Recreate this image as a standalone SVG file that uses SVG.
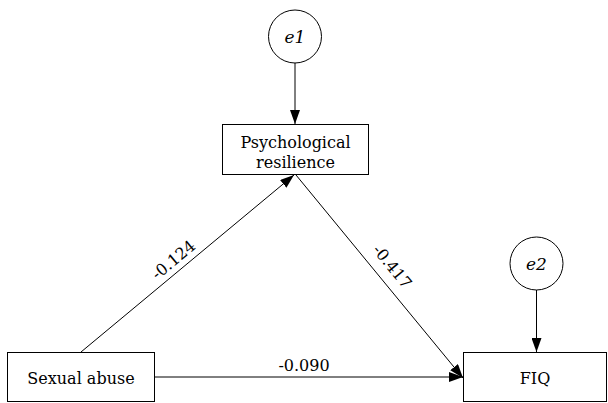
<svg xmlns="http://www.w3.org/2000/svg" width="608" height="403" viewBox="0 0 608 403">
<style>
text{font-family:"DejaVu Serif","Liberation Serif",serif;font-size:16px;fill:#000}
.box{fill:#fff;stroke:#000;stroke-width:1}
.c{fill:#fff;stroke:#000;stroke-width:1}
.ln{stroke:#000;stroke-width:1;fill:none;marker-end:url(#ah)}
.it{font-style:italic;font-size:17px}
</style>
<defs>
<marker id="ah" viewBox="0 0 14 10" refX="14" refY="5" markerWidth="14" markerHeight="10" markerUnits="userSpaceOnUse" orient="auto">
<path d="M0,0 L14,5 L0,10 Z" fill="#000"/>
</marker>
</defs>
<rect width="608" height="403" fill="#fff"/>
<g id="connectors">
<line class="ln" x1="295" y1="63" x2="295" y2="124"/>
<line class="ln" x1="536.5" y1="290" x2="536.5" y2="352"/>
<line class="ln" x1="81" y1="352" x2="294" y2="175"/>
<line class="ln" x1="296" y1="175" x2="463" y2="378"/>
<line class="ln" x1="155" y1="377" x2="463" y2="377"/>
<text x="304" y="371" text-anchor="middle">-0.090</text>
<text transform="translate(177,264) rotate(-39.7)" text-anchor="middle">-0.124</text>
<text transform="translate(388,270) rotate(50.6)" text-anchor="middle">-0.417</text>
</g>
<g id="e1">
<circle class="c" cx="295" cy="36.5" r="26.5"/>
<text class="it" x="295" y="43" text-anchor="middle">e1</text>
</g>
<g id="e2">
<circle class="c" cx="536.5" cy="263.5" r="26.5"/>
<text class="it" x="536.5" y="270" text-anchor="middle">e2</text>
</g>
<g id="psych">
<rect class="box" x="222.5" y="124.5" width="146" height="50"/>
<text x="295.5" y="148" text-anchor="middle">Psychological</text>
<text x="295.5" y="168" text-anchor="middle">resilience</text>
</g>
<g id="sexual">
<rect class="box" x="7.5" y="352.5" width="147" height="49"/>
<text x="81" y="384" text-anchor="middle">Sexual abuse</text>
</g>
<g id="fiq">
<rect class="box" x="463.5" y="352.5" width="143" height="49"/>
<text x="535" y="384" text-anchor="middle">FIQ</text>
</g>
</svg>
